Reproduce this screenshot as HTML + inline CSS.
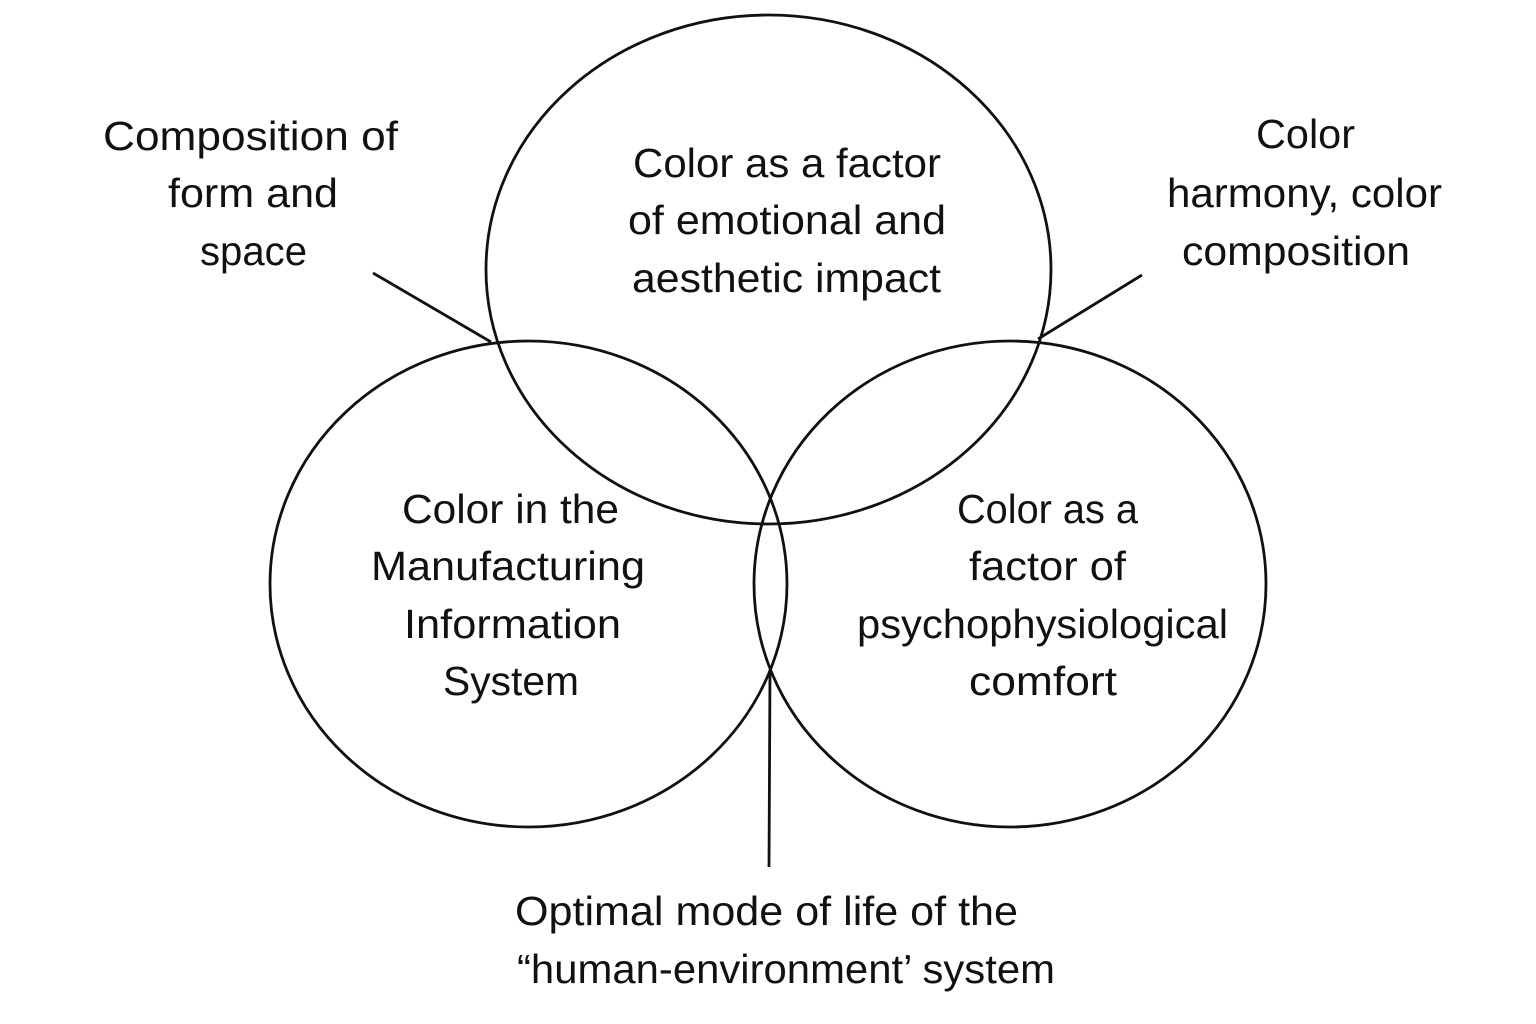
<!DOCTYPE html>
<html>
<head>
<meta charset="utf-8">
<style>
  html, body { margin: 0; padding: 0; background: #ffffff; }
  svg { display: block; }
  text { font-family: "Liberation Sans", "DejaVu Sans", sans-serif; font-size: 41px; fill: #111111; }
</style>
</head>
<body>
<svg width="1536" height="1024" viewBox="0 0 1536 1024" xmlns="http://www.w3.org/2000/svg">
  <rect width="1536" height="1024" fill="#ffffff"/>
  <g fill="none" stroke="#111111" stroke-width="2.8">
    <ellipse cx="768.5" cy="269.5" rx="282.5" ry="254.5"/>
    <ellipse cx="528.5" cy="584" rx="258.5" ry="243"/>
    <ellipse cx="1010" cy="584" rx="256" ry="243"/>
    <line x1="373" y1="273" x2="491" y2="342"/>
    <line x1="1142" y1="275" x2="1038" y2="339"/>
    <line x1="770" y1="670" x2="769" y2="867"/>
  </g>

  <!-- top circle -->
  <text x="633" y="177" textLength="308" lengthAdjust="spacingAndGlyphs">Color as a factor</text>
  <text x="628" y="234" textLength="318" lengthAdjust="spacingAndGlyphs">of emotional and</text>
  <text x="632" y="292" textLength="309" lengthAdjust="spacingAndGlyphs">aesthetic impact</text>

  <!-- left circle -->
  <text x="402" y="523" textLength="217" lengthAdjust="spacingAndGlyphs">Color in the</text>
  <text x="371" y="580" textLength="274" lengthAdjust="spacingAndGlyphs">Manufacturing</text>
  <text x="404" y="638" textLength="217" lengthAdjust="spacingAndGlyphs">Information</text>
  <text x="443" y="695" textLength="136" lengthAdjust="spacingAndGlyphs">System</text>

  <!-- right circle -->
  <text x="957" y="523" textLength="181" lengthAdjust="spacingAndGlyphs">Color as a</text>
  <text x="969" y="580" textLength="157" lengthAdjust="spacingAndGlyphs">factor of</text>
  <text x="857" y="638" textLength="371" lengthAdjust="spacingAndGlyphs">psychophysiological</text>
  <text x="969" y="695" textLength="148" lengthAdjust="spacingAndGlyphs">comfort</text>

  <!-- top-left label -->
  <text x="103" y="150" textLength="295" lengthAdjust="spacingAndGlyphs">Composition of</text>
  <text x="168" y="207" textLength="170" lengthAdjust="spacingAndGlyphs">form and</text>
  <text x="200" y="265" textLength="107" lengthAdjust="spacingAndGlyphs">space</text>

  <!-- top-right label -->
  <text x="1256" y="148" textLength="99" lengthAdjust="spacingAndGlyphs">Color</text>
  <text x="1167" y="207" textLength="275" lengthAdjust="spacingAndGlyphs">harmony, color</text>
  <text x="1182" y="265" textLength="228" lengthAdjust="spacingAndGlyphs">composition</text>

  <!-- bottom label -->
  <text x="515" y="925" textLength="503" lengthAdjust="spacingAndGlyphs">Optimal mode of life of the</text>
  <text x="517" y="983" textLength="538" lengthAdjust="spacingAndGlyphs">“human-environment’ system</text>
</svg>
</body>
</html>
